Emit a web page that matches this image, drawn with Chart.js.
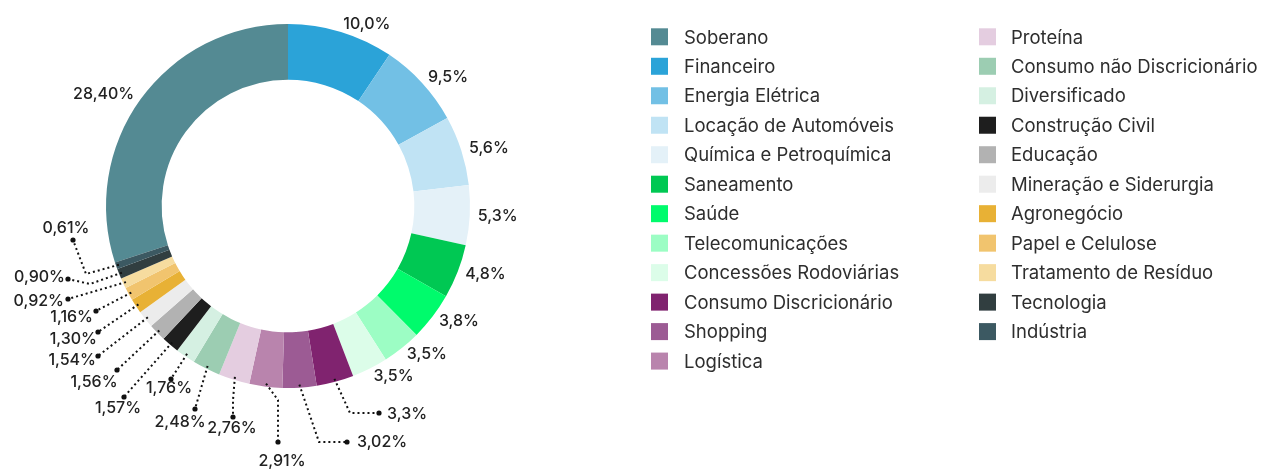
<!DOCTYPE html>
<html><head><meta charset="utf-8">
<script src="https://cdn.jsdelivr.net/npm/chart.js@4.4.1/dist/chart.umd.min.js"></script>
<style>html,body{margin:0;padding:0;background:#fff;overflow:hidden}canvas{display:block}</style>
</head><body>
<canvas id="c" width="1267" height="470"></canvas>
<script>
// ---- data ----
const categories = ["Soberano","Financeiro","Energia Elétrica","Locação de Automóveis","Química e Petroquímica","Saneamento","Saúde","Telecomunicações","Concessões Rodoviárias","Consumo Discricionário","Shopping","Logística","Proteína","Consumo não Discricionário","Diversificado","Construção Civil","Educação","Mineração e Siderurgia","Agronegócio","Papel e Celulose","Tratamento de Resíduo","Tecnologia","Indústria"];
// arc shares as drawn in the ring
const values = [30.0, 9.4, 7.55, 6.2, 5.3, 4.8, 4.25, 3.45, 3.2, 3.3, 3.02, 2.91, 2.76, 2.48, 1.76, 1.57, 1.56, 1.54, 1.30, 1.16, 0.92, 0.90, 0.61];
// printed value labels
const valueLabels = ["28,40%","10,0%","9,5%","5,6%","5,3%","4,8%","3,8%","3,5%","3,5%","3,3%","3,02%","2,91%","2,76%","2,48%","1,76%","1,57%","1,56%","1,54%","1,30%","1,16%","0,92%","0,90%","0,61%"];
const colors = ["#548a93","#2ba3d8","#72c0e5","#c0e3f4","#e4f1f8","#00c853","#00fb6c","#9cfdc4","#dcfde9","#80236f","#9c5b94","#b984ad","#e4cde0","#9ccdb2","#d5f0e2","#1e1e1e","#b2b2b2","#ececec","#e8b135","#f1c46e","#f6dc9f","#313e40","#3c5962"];

// ---- layout of leader-line labels (offsets from ring centre, px) ----
const leaders = {
  9:  {elbow:[62,207],  dot:[91,207],   text:[99,208],   align:"left"},
  10: {elbow:[31,236],  dot:[59,236],   text:[69,236],   align:"left"},
  11: {elbow:[-10,194], dot:[-10,236],  text:[-6,255],   align:"center"},
  12: {elbow:[-55,194], dot:[-55,211],  text:[-56,222],  align:"center"},
  13: {dot:[-93,203],   text:[-108,216], align:"center"},
  14: {dot:[-117,173],  text:[-119,182], align:"center"},
  15: {dot:[-164,191],  text:[-170,202], align:"center"},
  16: {dot:[-171,164],  text:[-194,176], align:"center"},
  17: {dot:[-190,150],  text:[-192,154], align:"right"},
  18: {dot:[-190,126],  text:[-191,133], align:"right"},
  19: {dot:[-192,105],  text:[-195,111], align:"right"},
  20: {dot:[-220,93],   text:[-224,95],  align:"right"},
  21: {elbow:[-198,78], dot:[-220,73],   text:[-223,71],  align:"right"},
  22: {elbow:[-202,68], dot:[-215,34],   text:[-222,22],  align:"center"}
};

const labelFont = "500 16px Inter";
const legendSize = 18.5;
const legendFont = "400 " + legendSize + "px Inter";

const labelPlugin = {
  id: "sliceLabels",
  afterDatasetsDraw(chart) {
    const ctx = chart.ctx;
    const meta = chart.getDatasetMeta(0);
    ctx.save();
    ctx.font = labelFont;
    ctx.fillStyle = "#222";
    ctx.strokeStyle = "#111";
    ctx.textBaseline = "middle";
    meta.data.forEach((arc, i) => {
      const p = arc.getProps(["x","y","startAngle","endAngle","outerRadius"], true);
      const mid = (p.startAngle + p.endAngle) / 2;
      const cx = p.x, cy = p.y;
      const L = leaders[i];
      if (L) {
        const r0 = p.outerRadius - 3;
        const sx = cx + r0 * Math.cos(mid), sy = cy + r0 * Math.sin(mid);
        ctx.save();
        ctx.lineWidth = 2;
        ctx.setLineDash([2, 3]);
        ctx.beginPath();
        ctx.moveTo(sx, sy);
        if (L.elbow) ctx.lineTo(cx + L.elbow[0], cy + L.elbow[1]);
        ctx.lineTo(cx + L.dot[0], cy + L.dot[1]);
        ctx.stroke();
        ctx.setLineDash([]);
        ctx.fillStyle = "#111";
        ctx.beginPath();
        ctx.arc(cx + L.dot[0], cy + L.dot[1], 2.6, 0, Math.PI * 2);
        ctx.fill();
        ctx.restore();
        ctx.textAlign = L.align;
        ctx.fillText(valueLabels[i], cx + L.text[0], cy + L.text[1]);
      } else {
        const r = p.outerRadius + 8;
        const tx = cx + r * Math.cos(mid), ty = cy + r * Math.sin(mid);
        ctx.textAlign = Math.cos(mid) >= 0 ? "left" : "right";
        ctx.fillText(valueLabels[i], tx, ty);
      }
    });
    ctx.restore();
  },
  afterDraw(chart) {
    const ctx = chart.ctx;
    ctx.save();
    ctx.font = legendFont;
    ctx.textAlign = "left";
    ctx.textBaseline = "alphabetic";
    const cap = legendSize * 0.727;
    chart.data.labels.forEach((lab, i) => {
      const col = i < 12 ? 0 : 1;
      const row = col ? i - 12 : i;
      const sx = col ? 979 : 651;
      const tx = col ? 1011 : 684;
      const cy = 36.8 + row * 29.48;
      ctx.fillStyle = colors[i];
      ctx.fillRect(sx, cy - 8.5, 17, 17);
      ctx.fillStyle = "#2e2e2e";
      ctx.fillText(lab, tx, cy + cap / 2);
    });
    ctx.restore();
  }
};

const total = values.reduce((a, b) => a + b, 0);
new Chart(document.getElementById("c"), {
  type: "doughnut",
  data: {
    labels: categories,
    datasets: [{
      data: values,
      backgroundColor: colors,
      borderWidth: 0,
      radius: 182,
      cutout: 143
    }]
  },
  options: {
    responsive: false,
    animation: false,
    events: [],
    rotation: -values[0] / total * 360,
    layout: { padding: { left: 0, top: 0, right: 691, bottom: 58 } },
    plugins: { legend: { display: false }, tooltip: { enabled: false } }
  },
  plugins: [labelPlugin]
});
</script>
</body></html>
